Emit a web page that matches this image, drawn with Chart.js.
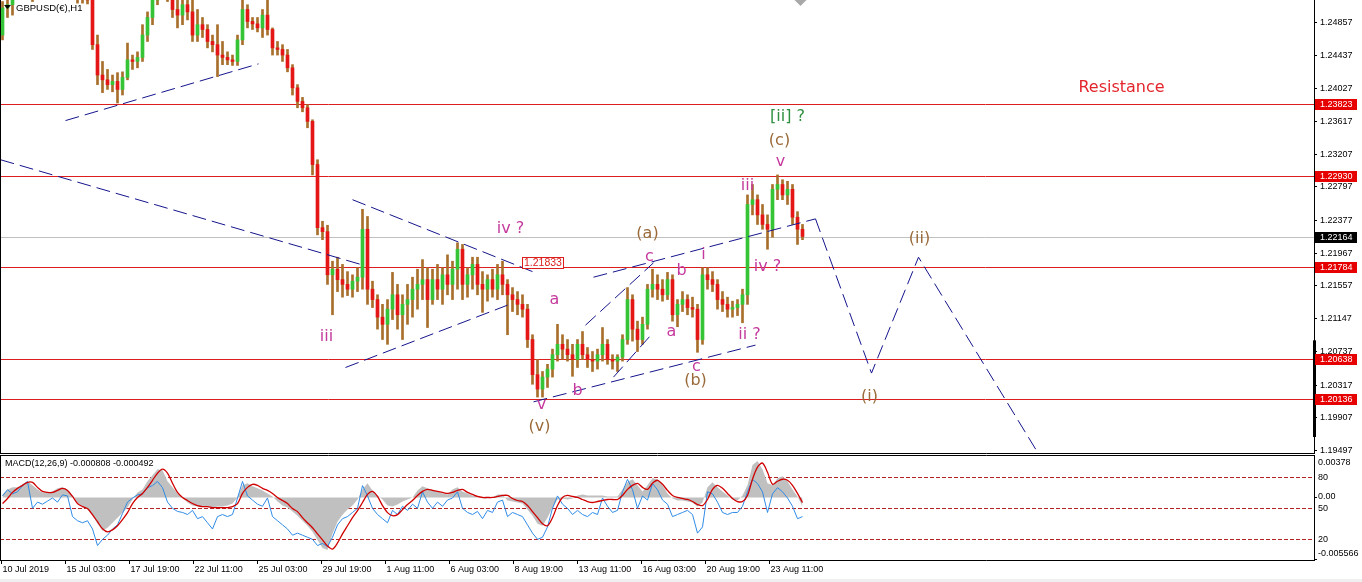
<!DOCTYPE html>
<html><head><meta charset="utf-8">
<script src="https://cdn.jsdelivr.net/npm/chart.js@4.4.1/dist/chart.umd.min.js"></script>
<style>
html,body{margin:0;padding:0;background:#fff;width:1362px;height:582px;overflow:hidden}
#a{position:absolute;left:0;top:0}
#b{position:absolute;left:0;top:454px}
</style></head><body>
<canvas id="a" width="1362" height="454"></canvas>
<canvas id="b" width="1362" height="128"></canvas>
<script>
// ---------------- DATA ----------------
const symbolTitle = 'GBPUSD(€),H1';
const BARS_PER_CANDLE = 5;

const openP = [
1.2469,1.2503,1.2507,1.2526,1.2538,1.2548,1.2526,1.2523,1.2544,1.2563,
1.2557,1.2544,1.2538,1.2532,1.2528,1.2523,1.2516,1.2519,1.2513,1.2457,
1.2419,1.2413,1.2407,1.2411,1.2401,1.2416,1.2438,1.2436,1.2441,1.2469,
1.2491,1.2513,1.2526,1.2528,1.2519,1.2501,1.2494,1.2507,1.2498,1.2469,
1.2482,1.2476,1.2461,1.2457,1.2444,1.2441,1.2438,1.2436,1.2463,1.2501,
1.2486,1.2483,1.2478,1.2494,1.2476,1.2453,1.2451,1.2444,1.2428,1.2403,
1.2386,1.2378,1.2361,1.2307,1.2228,1.2223,1.2169,1.2176,1.2163,1.2157,
1.2151,1.2161,1.2166,1.2226,1.2151,1.2138,1.2116,1.2107,1.2126,1.2144,
1.2119,1.2132,1.2138,1.2151,1.2157,1.2163,1.2138,1.2163,1.2151,1.2169,
1.2157,1.2176,1.2201,1.2157,1.2169,1.2182,1.2157,1.2151,1.2163,1.2151,
1.2169,1.2157,1.2144,1.2138,1.2132,1.2126,1.2088,1.2044,1.2026,1.2041,
1.2051,1.2069,1.2082,1.2076,1.2069,1.2063,1.2082,1.2069,1.2063,1.2061,
1.2069,1.2082,1.2063,1.2061,1.2066,1.2088,1.2138,1.2101,1.2088,1.2107,
1.2151,1.2157,1.2151,1.2144,1.2163,1.2119,1.2132,1.2138,1.2128,1.2126,
1.2088,1.2169,1.2163,1.2157,1.2138,1.2132,1.2126,1.2128,1.2132,1.2144,
1.2257,1.2263,1.2244,1.2232,1.2226,1.2276,1.2282,1.2269,1.2276,1.2241,
1.2226];
const highP = [
1.2511,1.2519,1.2528,1.2544,1.2557,1.2557,1.2532,1.2551,1.2569,1.2576,
1.2569,1.2557,1.2551,1.2544,1.2538,1.2532,1.2526,1.2526,1.2517,1.2469,
1.2436,1.2426,1.2419,1.2422,1.2423,1.2459,1.2444,1.2448,1.2482,1.2498,
1.2519,1.2532,1.2538,1.2536,1.2528,1.2519,1.2513,1.2519,1.2513,1.2501,
1.2491,1.2482,1.2469,1.2482,1.2461,1.2448,1.2444,1.2469,1.2516,1.2507,
1.2491,1.2491,1.2501,1.2517,1.2478,1.2461,1.2457,1.2451,1.2432,1.2407,
1.2391,1.2382,1.2363,1.2313,1.2236,1.2231,1.2186,1.2191,1.2182,1.2173,
1.2169,1.2178,1.2251,1.2242,1.2161,1.2144,1.2132,1.2138,1.2172,1.2157,
1.2144,1.2157,1.2166,1.2176,1.2188,1.2178,1.2176,1.2182,1.2178,1.2194,
1.2186,1.2209,1.2207,1.2178,1.2191,1.2191,1.2173,1.2169,1.2176,1.2182,
1.2186,1.2163,1.2153,1.2148,1.2144,1.2132,1.2094,1.2063,1.2048,1.2057,
1.2076,1.2107,1.2094,1.2088,1.2082,1.2088,1.2098,1.2078,1.2073,1.2076,
1.2103,1.2088,1.2069,1.2069,1.2094,1.2153,1.2144,1.2111,1.2116,1.2157,
1.2176,1.2169,1.2163,1.2172,1.2169,1.2138,1.2148,1.2144,1.2141,1.2132,
1.2178,1.2178,1.2173,1.2163,1.2148,1.2141,1.2136,1.2138,1.2151,1.2269,
1.2282,1.2269,1.2257,1.2244,1.2282,1.2294,1.2288,1.2286,1.2282,1.2248,
1.2232];
const lowP = [
1.2463,1.2491,1.2494,1.2519,1.2532,1.2519,1.2511,1.2519,1.2538,1.2551,
1.2538,1.2532,1.2526,1.2519,1.2517,1.2509,1.2509,1.2508,1.2451,1.2407,
1.2397,1.2401,1.2398,1.2384,1.2394,1.2413,1.2426,1.2428,1.2436,1.2461,
1.2482,1.2507,1.2516,1.2511,1.2491,1.2478,1.2482,1.2488,1.2461,1.2461,
1.2466,1.2453,1.2448,1.2417,1.2432,1.2432,1.2431,1.2431,1.2457,1.2478,
1.2476,1.2473,1.2466,1.2469,1.2444,1.2444,1.2436,1.2423,1.2394,1.2378,
1.2373,1.2353,1.2294,1.2219,1.2213,1.2157,1.2119,1.2148,1.2141,1.2143,
1.2141,1.2148,1.2151,1.2132,1.2128,1.2101,1.2088,1.2082,1.2113,1.2101,
1.2088,1.2107,1.2116,1.2126,1.2138,1.2103,1.2132,1.2138,1.2132,1.2144,
1.2138,1.2151,1.2138,1.2141,1.2151,1.2144,1.2122,1.2136,1.2141,1.2138,
1.2144,1.2094,1.2123,1.2119,1.2116,1.2078,1.2032,1.2016,1.2016,1.2028,
1.2041,1.2061,1.2063,1.2061,1.2042,1.2053,1.2063,1.2053,1.2048,1.2051,
1.2061,1.2057,1.2051,1.2048,1.2061,1.2082,1.2086,1.2073,1.2082,1.2101,
1.2141,1.2138,1.2136,1.2138,1.2111,1.2104,1.2123,1.2119,1.2116,1.2072,
1.2082,1.2151,1.2148,1.2126,1.2123,1.2116,1.2116,1.2118,1.2109,1.2132,
1.2244,1.2232,1.2226,1.2201,1.2216,1.2263,1.2263,1.2257,1.2232,1.2207,
1.2213];
const closeP = [
1.2503,1.2507,1.2526,1.2538,1.2548,1.2526,1.2523,1.2544,1.2563,1.2557,
1.2544,1.2538,1.2532,1.2528,1.2523,1.2516,1.2519,1.2513,1.2457,1.2419,
1.2413,1.2407,1.2411,1.2401,1.2416,1.2438,1.2436,1.2441,1.2469,1.2491,
1.2513,1.2526,1.2528,1.2519,1.2501,1.2494,1.2507,1.2498,1.2469,1.2482,
1.2476,1.2461,1.2457,1.2444,1.2441,1.2438,1.2436,1.2463,1.2501,1.2486,
1.2483,1.2478,1.2494,1.2476,1.2453,1.2451,1.2444,1.2428,1.2403,1.2386,
1.2378,1.2361,1.2307,1.2228,1.2223,1.2169,1.2176,1.2163,1.2157,1.2151,
1.2161,1.2166,1.2226,1.2151,1.2138,1.2116,1.2107,1.2126,1.2144,1.2119,
1.2132,1.2138,1.2151,1.2157,1.2163,1.2138,1.2163,1.2151,1.2169,1.2157,
1.2176,1.2201,1.2157,1.2169,1.2182,1.2157,1.2151,1.2163,1.2151,1.2169,
1.2157,1.2144,1.2138,1.2132,1.2126,1.2088,1.2044,1.2026,1.2041,1.2051,
1.2069,1.2082,1.2076,1.2069,1.2063,1.2082,1.2069,1.2063,1.2061,1.2069,
1.2082,1.2063,1.2061,1.2066,1.2088,1.2138,1.2101,1.2088,1.2107,1.2151,
1.2157,1.2151,1.2144,1.2163,1.2119,1.2132,1.2138,1.2128,1.2126,1.2088,
1.2169,1.2163,1.2157,1.2138,1.2132,1.2126,1.2128,1.2132,1.2144,1.2257,
1.2263,1.2244,1.2232,1.2226,1.2276,1.2282,1.2269,1.2276,1.2241,1.2226,
1.2217];

// MACD main (grey histogram) and signal (red)
const macdMain = [
0.00027,0.00072,0.0009,0.0009,0.00117,0.00144,0.00108,0.00072,0.00045,0.00045,
0.00054,0.00081,0.0009,0.00072,0.00018,-0.00045,-0.00081,-0.00108,-0.00162,-0.00234,
-0.00297,-0.0027,-0.00225,-0.0018,-0.00135,-0.0009,-0.00018,0.00045,0.00072,0.00144,
0.00198,0.00252,0.00243,0.00144,0.0009,0.00036,0,-0.00045,-0.00072,-0.00081,
-0.00081,-0.00081,-0.0009,-0.00081,-0.00081,-0.00072,-0.00054,0,0.00108,0.00126,
0.00099,0.00081,0.00063,0.00036,0.00009,-0.00036,-0.00072,-0.0009,-0.00126,-0.00162,
-0.00207,-0.00252,-0.00306,-0.00378,-0.0045,-0.00468,-0.00324,-0.00216,-0.00153,-0.00108,
-0.00072,-0.00018,0.00072,0.00126,0.00063,0.00018,-0.00018,-0.00072,-0.00081,-0.00063,
-0.00036,-0.00018,0,0.00063,0.00099,0.00081,0.00063,0.00054,0.00036,0.00027,
0.00072,0.0009,0.00054,0.00036,0.00018,0.00009,-0.00009,-0.00009,0,0.00027,
0.00027,-0.00027,-0.00036,-0.00045,-0.00054,-0.00108,-0.00162,-0.00234,-0.00252,-0.0018,
-0.0009,-0.00018,-0.00009,-0.00018,-0.00009,0.00018,0.00027,0.00018,0.00018,0.00018,
0.00018,0.00009,0.00009,0.00009,0.00072,0.00135,0.00162,0.00108,0.00054,0.00108,
0.00171,0.00162,0.00108,0.00036,-0.00009,-0.00027,-0.00027,-0.00036,-0.00045,-0.00081,
-0.00045,0.0009,0.00135,0.0009,0.00054,0.00018,-0.00018,-0.00027,0.00018,0.00108,
0.00288,0.00324,0.00252,0.00126,0.00108,0.00171,0.00189,0.00144,0.00072,0.00009,
-0.00081];
const macdSignal = [
-0.00054,-0.00009,0.00045,0.00081,0.00108,0.00135,0.00135,0.0009,0.00054,0.00045,
0.00045,0.00063,0.00081,0.00063,0.00009,-0.00054,-0.00081,-0.00099,-0.00153,-0.00216,
-0.00279,-0.00306,-0.00288,-0.00252,-0.00198,-0.00135,-0.00054,0,0.00036,0.0009,
0.00153,0.00216,0.00252,0.00216,0.00126,0.00045,0,-0.00027,-0.00054,-0.00072,
-0.00081,-0.00081,-0.0009,-0.0009,-0.0009,-0.0009,-0.00081,-0.00054,0.00036,0.0009,
0.00117,0.00108,0.00081,0.00063,0.00036,0,-0.00027,-0.00054,-0.00099,-0.00126,
-0.0018,-0.00225,-0.0027,-0.00324,-0.00378,-0.00432,-0.00459,-0.00405,-0.00324,-0.00252,
-0.0018,-0.00117,-0.00045,0.00027,0.00054,0.00009,-0.00072,-0.00135,-0.00162,-0.00153,
-0.00108,-0.00063,-0.00027,0.00018,0.00054,0.00072,0.00063,0.00054,0.00045,0.00036,
0.00045,0.00063,0.00072,0.00045,0.00027,0.00009,0,0,0,0.00009,
0.00018,0.00018,-0.00009,-0.00027,-0.00036,-0.00072,-0.00126,-0.0018,-0.00234,-0.00252,
-0.0018,-0.00072,0,0.00018,0.00009,0,-0.00018,-0.00036,-0.00045,-0.00036,
-0.00027,-0.00018,-0.00018,-0.00018,0.00018,0.00072,0.00108,0.00126,0.0009,0.00072,
0.00126,0.00153,0.00117,0.00063,0.00018,0,-0.00009,-0.00018,-0.00036,-0.00063,
-0.00072,-0.00018,0.00072,0.00108,0.00081,0.00036,-0.00009,-0.00036,-0.00036,0.00018,
0.00162,0.0027,0.00306,0.00225,0.00117,0.00144,0.00162,0.00153,0.00108,0.00036,
-0.00045];
// oscillator (blue, 0-100 scale with 80/50/20 levels)
const oscLine = [
62,68,64,66,72,76,50,56,54,57,
60,56,63,62,42,38,36,38,30,14,
20,24,30,34,45,56,60,63,64,70,
72,76,70,56,50,47,46,44,48,40,
42,36,30,42,44,42,44,60,76,62,
58,54,52,60,42,38,34,30,24,26,
24,22,20,14,16,13,22,34,40,42,
46,50,72,62,50,44,40,36,48,44,
52,48,54,50,66,56,50,56,52,58,
60,66,50,46,44,47,40,48,46,56,
58,42,46,44,42,34,26,20,22,32,
50,62,54,50,44,48,44,42,46,44,
60,52,46,48,66,78,68,50,62,58,
74,68,58,54,42,44,46,48,44,26,
32,66,64,56,46,44,46,46,52,66,
78,74,66,46,64,70,66,60,52,40,
42];

const priceTicks = [1.24857,1.24437,1.24027,1.23617,1.23207,1.22797,1.22377,1.21967,1.21557,1.21147,1.20737,1.20317,1.19907,1.19497];
const levelPrices = [1.23823,1.22930,1.21784,1.20638,1.20136];
const lastPrice = 1.22164;
const axisBarRange = [1.2087,1.1966];
const timeTickBars = [0,64,128,192,256,320,384,448,512,576,640,704,768];
const timeLabels = ['10 Jul 2019','15 Jul 03:00','17 Jul 19:00','22 Jul 11:00','25 Jul 03:00','29 Jul 19:00','1 Aug 11:00','6 Aug 03:00','8 Aug 19:00','13 Aug 11:00','16 Aug 03:00','20 Aug 19:00','23 Aug 11:00'];
const macdTitle = 'MACD(12,26,9) -0.000808 -0.000492';
const macdMax = 0.00378, macdMin = -0.005566;
const oscLevels = [80,50,20];

const trendLines = [
  [[65,1.2362],[258,1.2433]],
  [[0,1.2313],[363,1.2181]],
  [[352,1.2263],[532,1.2173]],
  [[345,1.2053],[507,1.2131]],
  [[533,1.2010],[755,1.2081]],
  [[593,1.2166],[815,1.2239]],
  [[585,1.2106],[653,1.2184]],
  [[613,1.2041],[650,1.2093]],
  [[815,1.2239],[871,1.2046],[918,1.2191],[1037,1.1947]]
];
const priceTag = {text:'1.21833', bar:521, p:1.21833};
const shiftMarkerBar = 800;
const waveLabels = [
 {t:'iii', bar:326, p:1.2091, c:'m'},
 {t:'iv ?', bar:510, p:1.2226, c:'m'},
 {t:'a', bar:554, p:1.2138, c:'m'},
 {t:'b', bar:577, p:1.2024, c:'m'},
 {t:'v', bar:541, p:1.2006, c:'m'},
 {t:'(v)', bar:539, p:1.1979, c:'b'},
 {t:'(a)', bar:647, p:1.2220, c:'b'},
 {t:'c', bar:649, p:1.2191, c:'m'},
 {t:'b', bar:681, p:1.2174, c:'m'},
 {t:'i', bar:703, p:1.2194, c:'m'},
 {t:'a', bar:671, p:1.2097, c:'m'},
 {t:'c', bar:696, p:1.2054, c:'m'},
 {t:'(b)', bar:695, p:1.2036, c:'b'},
 {t:'ii ?', bar:749, p:1.2094, c:'m'},
 {t:'iv ?', bar:767, p:1.2179, c:'m'},
 {t:'iii', bar:747, p:1.2280, c:'m'},
 {t:'v', bar:780, p:1.2310, c:'m'},
 {t:'(c)', bar:779, p:1.2337, c:'b'},
 {t:'[ii] ?', bar:787, p:1.2367, c:'g'},
 {t:'(ii)', bar:919, p:1.2214, c:'b'},
 {t:'(i)', bar:869, p:1.2016, c:'b'},
 {t:'Resistance', bar:1121, p:1.2403, c:'r'}
];

// ---------------- STYLE ----------------
const UP = '#35C435', DOWN = '#E41616', WICK = '#A86F2C';
const LEVEL_RED = '#DC1E1E', TREND = '#14148C';
const LABEL_COL = {m:'#C53A9E', b:'#9B6A3A', g:'#2F8F3F', r:'#E3262B'};
const AXIS_FONT = '9px "Liberation Sans"';
const AXIS_W = 48;
const X_MIN = -0.5, X_MAX = 1313.5;
const PRICE_MAX = 1.25129, PRICE_MIN = 1.19460;

const candleX = openP.map((_, i) => i * BARS_PER_CANDLE + 2);

function hline(ctx, x1, x2, y){ ctx.beginPath(); ctx.moveTo(x1, y); ctx.lineTo(x2, y); ctx.stroke(); }
function vline(ctx, x, y1, y2){ ctx.beginPath(); ctx.moveTo(x, y1); ctx.lineTo(x, y2); ctx.stroke(); }

const mainPlugin = {
  id: 'mainDeco',
  beforeDatasetsDraw(chart){
    const {ctx, chartArea:a, scales:{y}} = chart;
    ctx.save();
    ctx.lineWidth = 1;
    ctx.strokeStyle = '#C0C0C0';
    hline(ctx, a.left, a.right, Math.round(y.getPixelForValue(lastPrice)) + 0.5);
    ctx.strokeStyle = LEVEL_RED;
    levelPrices.forEach(p => hline(ctx, a.left, a.right, Math.round(y.getPixelForValue(p)) + 0.5));
    ctx.restore();
  },
  afterDraw(chart){
    const {ctx, chartArea:a, scales:{x, y}} = chart;
    ctx.save();
    ctx.textAlign = 'center'; ctx.textBaseline = 'middle';
    ctx.font = '16px "DejaVu Sans"';
    waveLabels.forEach(l => {
      ctx.fillStyle = LABEL_COL[l.c];
      ctx.fillText(l.t, x.getPixelForValue(l.bar), y.getPixelForValue(l.p));
    });
    ctx.font = '10.5px "Liberation Sans"';
    const tw = Math.round(ctx.measureText(priceTag.text).width) + 3;
    const tx = Math.round(x.getPixelForValue(priceTag.bar)), ty = Math.round(y.getPixelForValue(priceTag.p));
    ctx.fillStyle = '#fff'; ctx.fillRect(tx, ty - 6, tw, 12);
    ctx.strokeStyle = LEVEL_RED; ctx.lineWidth = 1; ctx.strokeRect(tx + 0.5, ty - 5.5, tw, 11);
    ctx.fillStyle = LEVEL_RED; ctx.textAlign = 'left'; ctx.fillText(priceTag.text, tx + 2, ty + 0.5);
    const sx = x.getPixelForValue(shiftMarkerBar);
    ctx.fillStyle = '#A8A8A8';
    ctx.beginPath(); ctx.moveTo(sx - 6, 0); ctx.lineTo(sx + 6, 0); ctx.lineTo(sx, 6); ctx.closePath(); ctx.fill();
    ctx.fillStyle = '#000';
    ctx.beginPath(); ctx.moveTo(4, 5); ctx.lineTo(11, 5); ctx.lineTo(7.5, 9); ctx.closePath(); ctx.fill();
    ctx.font = '9.5px "Liberation Sans"'; ctx.textBaseline = 'middle'; ctx.textAlign = 'left';
    ctx.fillText(symbolTitle, 16, 8);
    ctx.strokeStyle = '#000'; ctx.lineWidth = 1;
    vline(ctx, 0.5, 0, a.bottom);
    hline(ctx, 0, a.right + 1, a.bottom + 0.5);
    vline(ctx, a.right + 0.5, 0, a.bottom + 1);
    ctx.font = AXIS_FONT; ctx.fillStyle = '#000';
    priceTicks.forEach(p => {
      const py = Math.round(y.getPixelForValue(p)) + 0.5;
      hline(ctx, a.right, a.right + 3, py);
      ctx.fillText(p.toFixed(5), a.right + 6, py);
    });
    const b1 = y.getPixelForValue(axisBarRange[0]), b2 = y.getPixelForValue(axisBarRange[1]);
    ctx.fillRect(a.right - 1, b1, 3, b2 - b1);
    const box = (p, fill) => {
      const py = Math.round(y.getPixelForValue(p));
      ctx.fillStyle = fill; ctx.fillRect(a.right + 1, py - 5, 42, 11);
      ctx.fillStyle = '#fff'; ctx.fillText(p.toFixed(5), a.right + 6, py + 0.5);
    };
    levelPrices.forEach(p => box(p, '#E60000'));
    box(lastPrice, '#000');
    ctx.restore();
  }
};

new Chart(document.getElementById('a'), {
  type: 'bar',
  data: { datasets: [
    { type:'bar', order:3, grouped:false, barThickness:2, borderWidth:0,
      data: candleX.map((xv, i) => ({x: xv, y: [lowP[i], highP[i]]})),
      backgroundColor: WICK },
    { type:'bar', order:2, grouped:false, barThickness:3, minBarLength:1, borderWidth:0,
      data: candleX.map((xv, i) => ({x: xv, y: [openP[i], closeP[i]]})),
      backgroundColor: c => closeP[c.dataIndex] >= openP[c.dataIndex] ? UP : DOWN },
    ...trendLines.map(pts => ({ type:'line', order:1, data: pts.map(([bx, p]) => ({x: bx, y: p})),
      borderColor: TREND, borderWidth: 1, borderDash: [14, 6], pointRadius: 0, fill: false, tension: 0 }))
  ]},
  options: {
    responsive: false, animation: false, events: [],
    layout: { padding: { left: 0, top: 0, right: AXIS_W, bottom: 1 } },
    plugins: { legend: { display: false }, tooltip: { enabled: false } },
    scales: {
      x: { type:'linear', min: X_MIN, max: X_MAX, offset: false, display: false },
      y: { type:'linear', min: PRICE_MIN, max: PRICE_MAX, display: false, beginAtZero: false }
    }
  },
  plugins: [mainPlugin]
});

const macdPlugin = {
  id: 'macdDeco',
  beforeDatasetsDraw(chart){
    const {ctx, chartArea:a, scales:{yR}} = chart;
    ctx.save();
    ctx.strokeStyle = '#B22222'; ctx.lineWidth = 1; ctx.setLineDash([4, 2]);
    oscLevels.forEach(v => hline(ctx, a.left, a.right, Math.round(yR.getPixelForValue(v)) + 0.5));
    ctx.restore();
  },
  afterDraw(chart){
    const {ctx, chartArea:a, scales:{x, yM, yR}} = chart;
    ctx.save();
    ctx.strokeStyle = '#000'; ctx.lineWidth = 1;
    hline(ctx, 0, a.right + 1, a.top + 0.5);
    hline(ctx, 0, a.right + 1, a.bottom + 0.5);
    vline(ctx, 0.5, a.top, a.bottom + 1);
    vline(ctx, a.right + 0.5, a.top, a.bottom + 1);
    ctx.fillStyle = '#000'; ctx.font = AXIS_FONT; ctx.textAlign = 'left'; ctx.textBaseline = 'middle';
    ctx.fillText(macdTitle, 5, a.top + 9);
    ctx.fillText(macdMax.toFixed(5), a.right + 4, a.top + 8);
    ctx.fillText(macdMin.toFixed(6), a.right + 4, a.bottom - 6);
    const z = Math.round(yM.getPixelForValue(0)) + 0.5;
    hline(ctx, a.right, a.right + 3, z);
    ctx.fillText('0.00', a.right + 4, z - 1);
    hline(ctx, a.right, a.right + 3, a.bottom - 0.5);
    oscLevels.forEach(v => ctx.fillText(String(v), a.right + 4, Math.round(yR.getPixelForValue(v)) + 1));
    timeTickBars.forEach((b, i) => {
      const tx = Math.round(x.getPixelForValue(b)) + 0.5;
      vline(ctx, tx, a.bottom, a.bottom + 4);
      ctx.fillText(timeLabels[i], tx + 1, a.bottom + 10);
    });
    ctx.fillStyle = '#EFEFEF';
    ctx.fillRect(0, chart.height - 3, chart.width, 3);
    ctx.restore();
  }
};

new Chart(document.getElementById('b'), {
  type: 'line',
  data: { datasets: [
    { order:1, yAxisID:'yM', data: candleX.map((xv, i) => ({x: xv, y: macdSignal[i]})),
      borderColor:'#D00000', borderWidth:1.3, pointRadius:0, fill:false, tension:0.3 },
    { order:2, yAxisID:'yR', data: candleX.map((xv, i) => ({x: xv, y: oscLine[i]})),
      borderColor:'#2E8BE6', borderWidth:1, pointRadius:0, fill:false, tension:0 },
    { order:3, yAxisID:'yM', data: candleX.map((xv, i) => ({x: xv, y: macdMain[i]})),
      borderColor:'rgba(0,0,0,0)', borderWidth:0, backgroundColor:'#C0C0C0', pointRadius:0, fill:'origin', tension:0 }
  ]},
  options: {
    responsive: false, animation: false, events: [],
    layout: { padding: { left: 0, top: 1, right: AXIS_W, bottom: 22 } },
    plugins: { legend: { display: false }, tooltip: { enabled: false } },
    scales: {
      x: { type:'linear', min: X_MIN, max: X_MAX, offset: false, display: false },
      yM: { type:'linear', position:'right', min: macdMin, max: macdMax, display: false },
      yR: { type:'linear', position:'right', min: 0, max: 101.6, display: false }
    }
  },
  plugins: [macdPlugin]
});
</script></body></html>
